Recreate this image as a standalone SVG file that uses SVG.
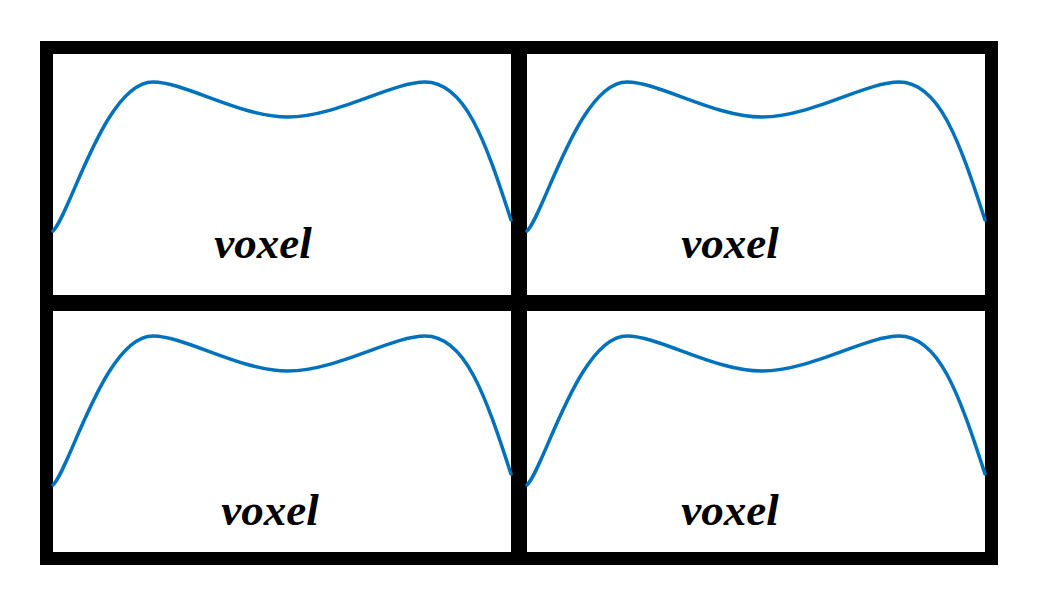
<svg xmlns="http://www.w3.org/2000/svg" width="1050" height="600" viewBox="0 0 1050 600">
<defs>
<style>
.frame{fill:#000}
.cell{fill:#fff}
.curve{fill:none;stroke:#0072BD;stroke-width:3.5;stroke-linecap:round}
.lbl{font-family:"Liberation Serif","Times New Roman",serif;font-weight:bold;font-style:italic;font-size:45px;fill:#000;text-anchor:middle}
</style>
<path id="wave" d="M53,231 C70,215 105,82 153,82 C185,82 240,117 288,117 C336,117 392,82 425,82 C465,82 485,140 511,220"/>
</defs>
<rect class="frame" x="40" y="41" width="958" height="524"/>
<g id="cell-tl">
<rect class="cell" x="53" y="54" width="458" height="241"/>
<use href="#wave" class="curve"/>
<text class="lbl" x="263" y="258">voxel</text>
</g>
<g id="cell-tr">
<rect class="cell" x="527" y="54" width="458" height="241"/>
<use href="#wave" class="curve" transform="translate(474,0)"/>
<text class="lbl" x="730" y="258">voxel</text>
</g>
<g id="cell-bl">
<rect class="cell" x="53" y="311" width="458" height="241"/>
<use href="#wave" class="curve" transform="translate(0,254)"/>
<text class="lbl" x="270" y="525">voxel</text>
</g>
<g id="cell-br">
<rect class="cell" x="527" y="311" width="458" height="241"/>
<use href="#wave" class="curve" transform="translate(474,254)"/>
<text class="lbl" x="730" y="525">voxel</text>
</g>
<g id="connectors"></g>
</svg>
